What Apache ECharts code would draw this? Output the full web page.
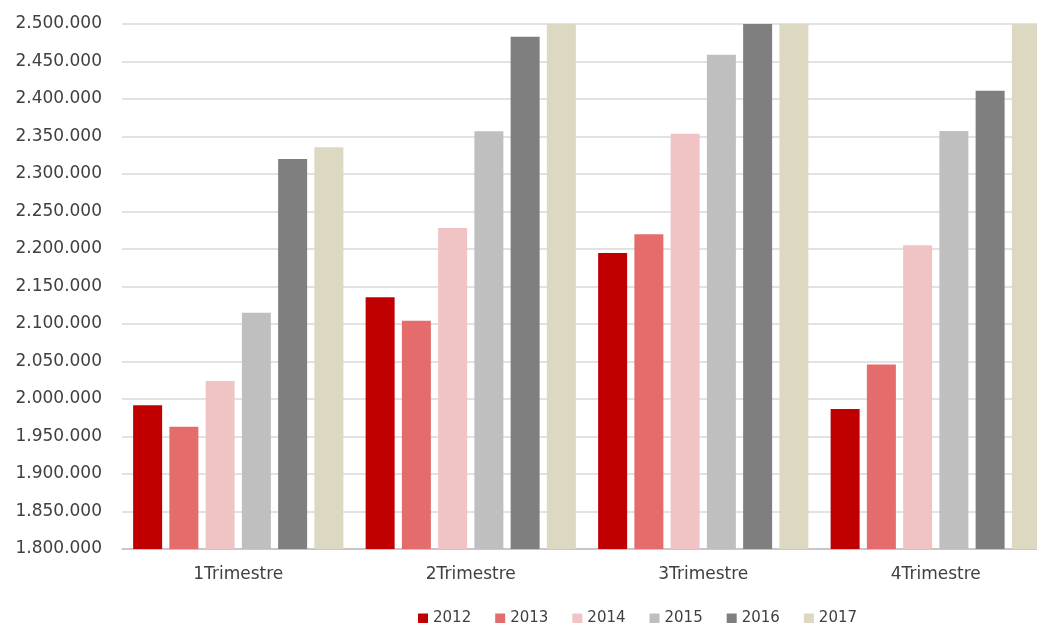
<!DOCTYPE html>
<html>
<head>
<meta charset="utf-8">
<script src="https://cdn.jsdelivr.net/npm/echarts@6/dist/echarts.min.js"></script>
<style>
    html, body { margin: 0; padding: 0; background: #ffffff; }
    #chart { width: 1037px; height: 623px; }
</style>
</head>
<body>
<div id="chart"></div>
<script>
    // datos (valores por encima de 2.500.000 quedan cortados)
    var categories = ['1Trimestre', '2Trimestre', '3Trimestre', '4Trimestre'];
    var years = ['2012', '2013', '2014', '2015', '2016', '2017'];
    var v2012 = [1991600, 2135600, 2194700, 1986700];
    var v2013 = [1963000, 2104400, 2219600, 2046000];
    var v2014 = [2024000, 2228000, 2353700, 2205000];
    var v2015 = [2115000, 2357000, 2459000, 2357300];
    var v2016 = [2320000, 2483000, 2520000, 2411000];
    var v2017 = [2335600, 2560000, 2600000, 2540000];
    var colors = ['#c00000', '#e46c6c', '#f0c4c4', '#bfbfbf', '#7f7f7f', '#ddd8c2'];

    var values = [v2012, v2013, v2014, v2015, v2016, v2017];
    var font = 'DejaVu Sans, Verdana, sans-serif';

    function fmt(v) {
        return String(v).replace(/\B(?=(\d{3})+(?!\d))/g, '.');
    }

    var chart = echarts.init(document.getElementById('chart'));
    chart.setOption({
        backgroundColor: '#ffffff',
        animation: false,
        color: colors,
        // el grafico original sigue a la derecha del recorte
        grid: {
            left: 122,
            width: 930,
            top: 24,
            bottom: 74,
            outerBoundsMode: 'none'
        },
        legend: {
            left: 413,
            top: 606,
            icon: 'rect',
            itemWidth: 10,
            itemHeight: 10,
            itemGap: 24,
            selectedMode: false,
            data: years,
            textStyle: {
                color: '#404040',
                fontSize: 15,
                fontFamily: font
            }
        },
        xAxis: {
            type: 'category',
            data: categories,
            axisTick: { show: false },
            axisLine: { lineStyle: { color: '#bfbfbf', width: 1.5 } },
            axisLabel: {
                color: '#404040',
                fontSize: 17,
                fontFamily: font,
                margin: 17
            }
        },
        yAxis: {
            type: 'value',
            min: 1800000,
            max: 2500000,
            interval: 50000,
            axisLine: { show: false },
            axisTick: { show: false },
            splitLine: { lineStyle: { color: '#d9d9d9', width: 1.5 } },
            axisLabel: {
                color: '#404040',
                fontSize: 17,
                fontFamily: font,
                margin: 20,
                formatter: fmt
            }
        },
        series: years.map(function (y, i) {
            return {
                name: y,
                type: 'bar',
                data: values[i],
                barWidth: 29,
                barGap: '25%',
                barCategoryGap: '10%',
                clip: true
            };
        })
    });
</script>
</body>
</html>
